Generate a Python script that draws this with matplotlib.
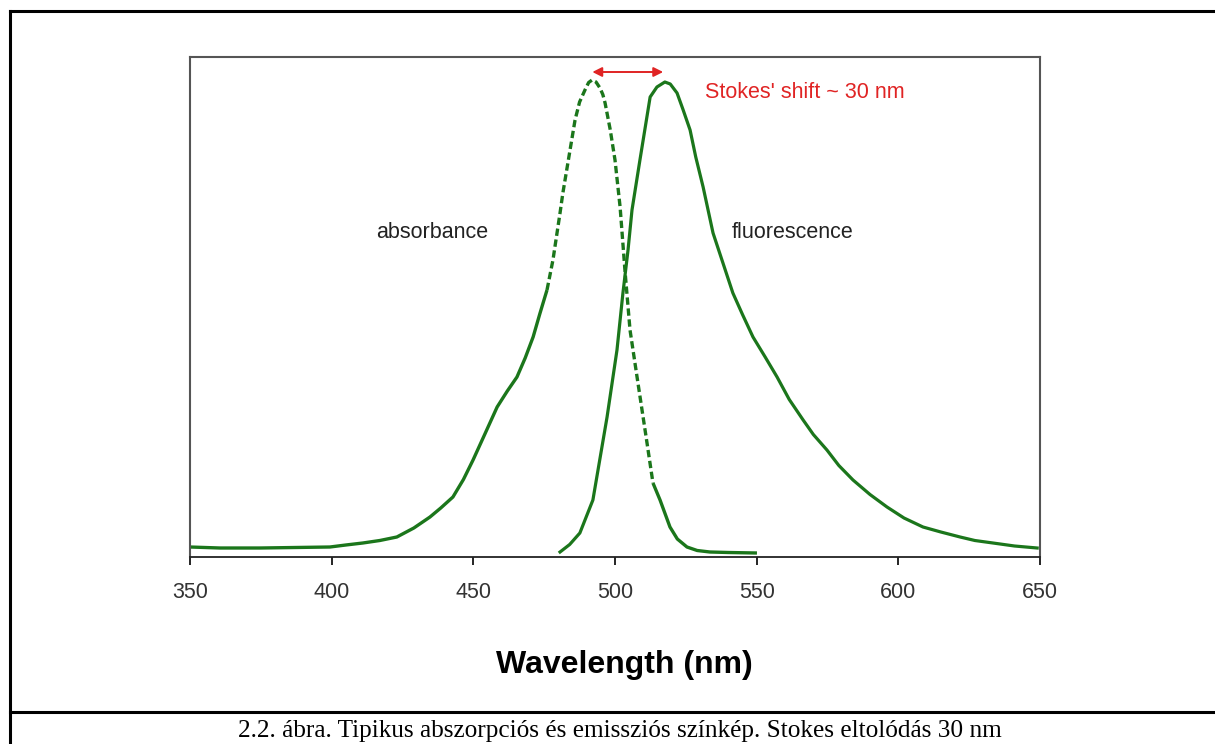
import matplotlib
matplotlib.use("Agg")
import matplotlib.pyplot as plt
from matplotlib.lines import Line2D

# absorbance spectrum (wavelength nm, relative intensity)
abs_wl = [350, 360.6, 374.7, 399.4, 405, 411, 417, 423, 429, 434.7, 438.5, 442.8,
          446.5, 449.9, 454, 458.4, 462, 465.4, 468.3, 471.1, 473.5, 476, 478.1,
          480.6, 481.6, 485.9, 487.5, 489.4, 490.7, 491.9, 493.3, 494.7, 495.7,
          496.5, 498.3, 500, 501.8, 503.5, 505.3, 508.1, 511.3, 513.4, 515.9,
          519.4, 522, 525.4, 529, 533.5, 540, 550.1]
abs_val = [0.020, 0.018, 0.018, 0.020, 0.024, 0.028, 0.033, 0.040, 0.058, 0.080, 0.098, 0.120,
           0.155, 0.194, 0.245, 0.300, 0.332, 0.360, 0.398, 0.440, 0.487, 0.534, 0.594,
           0.688, 0.728, 0.874, 0.910, 0.934, 0.949, 0.954, 0.950, 0.938, 0.925,
           0.908, 0.855, 0.794, 0.700, 0.574, 0.454, 0.348, 0.228, 0.148, 0.114,
           0.060, 0.036, 0.020, 0.013, 0.010, 0.009, 0.008]

# fluorescence spectrum
fl_wl = [480.6, 484, 487.6, 492.2, 497.2, 500.7, 502.8, 504.6, 506.0, 508.8, 512.4,
         514.8, 517.6, 519.5, 521.9, 524, 526.5, 528.5, 531.1, 534.6, 541.6, 545,
         548.7, 553, 557.2, 561.5, 566.4, 570, 574.8, 579, 584.0, 590, 596.0, 602,
         608.7, 615, 621.8, 627, 633.4, 641, 649.0]
fl_val = [0.010, 0.025, 0.048, 0.114, 0.280, 0.414, 0.528, 0.614, 0.694, 0.794, 0.920,
          0.940, 0.950, 0.946, 0.928, 0.895, 0.854, 0.800, 0.740, 0.648, 0.528, 0.485,
          0.440, 0.400, 0.360, 0.315, 0.274, 0.245, 0.214, 0.183, 0.154, 0.125, 0.100, 0.078,
          0.060, 0.050, 0.040, 0.033, 0.028, 0.022, 0.018]

ticks = [350, 400, 450, 500, 550, 600, 650]
abs_peak = 492
fl_peak = 517

green = "#1b761b"
red = "#e02424"

W, H = 1215, 744
fig = plt.figure(figsize=(W / 100, H / 100), dpi=100)
ax = fig.add_axes([190 / W, 1 - 557 / H, 850 / W, 500 / H])

# absorbance: solid in the flat parts, dashed on the steep flanks
lo = [i for i, w in enumerate(abs_wl) if w <= 476]
mid = [i for i, w in enumerate(abs_wl) if 476 <= w <= 513.4]
hi = [i for i, w in enumerate(abs_wl) if w >= 513.4]
for idx, ls in [(lo, "-"), (mid, (0, (2.2, 1.1))), (hi, "-")]:
    ax.plot([abs_wl[i] for i in idx], [abs_val[i] for i in idx],
            color=green, lw=2.4, linestyle=ls, solid_capstyle="butt",
            solid_joinstyle="round")
ax.plot(fl_wl, fl_val, color=green, lw=2.3, solid_joinstyle="round")

ax.annotate("", xy=(abs_peak, 0.97), xytext=(fl_peak, 0.97),
            arrowprops=dict(arrowstyle="<|-|>", color=red, lw=1.4,
                            mutation_scale=14, shrinkA=0, shrinkB=0))
ax.text(531.8, 0.928, "Stokes' shift ~ 30 nm", color=red, fontsize=15.5,
        family="Liberation Sans", ha="left", va="center")
ax.text(435.4, 0.648, "absorbance", color="#222222", fontsize=15.5,
        family="Liberation Sans", ha="center", va="center")
ax.text(562.8, 0.648, "fluorescence", color="#222222", fontsize=15.5,
        family="Liberation Sans", ha="center", va="center")

ax.set_xlim(350, 650)
ax.set_ylim(0, 1)
ax.set_xticks(ticks)
ax.set_xticklabels([str(t) for t in ticks], family="Liberation Sans",
                   fontsize=15.5, color="#333333")
ax.set_yticks([])
ax.tick_params(axis="x", direction="out", length=6, width=1.2, pad=12)
for s in ["top", "left", "right"]:
    ax.spines[s].set_color("#555555")
    ax.spines[s].set_linewidth(1.5)
ax.spines["bottom"].set_color("#222222")
ax.spines["bottom"].set_linewidth(1.3)

fig.text(624 / W, 1 - 665 / H, "Wavelength (nm)", ha="center", va="center",
         fontsize=23, fontweight="bold", family="Liberation Sans")
fig.text(620 / W, 1 - 731 / H,
         "2.2. ábra. Tipikus abszorpciós és emissziós színkép. Stokes eltolódás 30 nm",
         ha="center", va="center", fontsize=18.2, family="Liberation Serif")

# table-cell borders around figure and caption
fig.add_artist(Line2D([10 / W, 1], [1 - 11 / H, 1 - 11 / H], color="black", lw=2.2,
                      transform=fig.transFigure))
fig.add_artist(Line2D([10 / W, 10 / W], [0, 1 - 11 / H], color="black", lw=2.2,
                      transform=fig.transFigure))
fig.add_artist(Line2D([10 / W, 1], [1 - 712 / H, 1 - 712 / H], color="black", lw=2.2,
                      transform=fig.transFigure))

fig.savefig("out.png", dpi=100)
